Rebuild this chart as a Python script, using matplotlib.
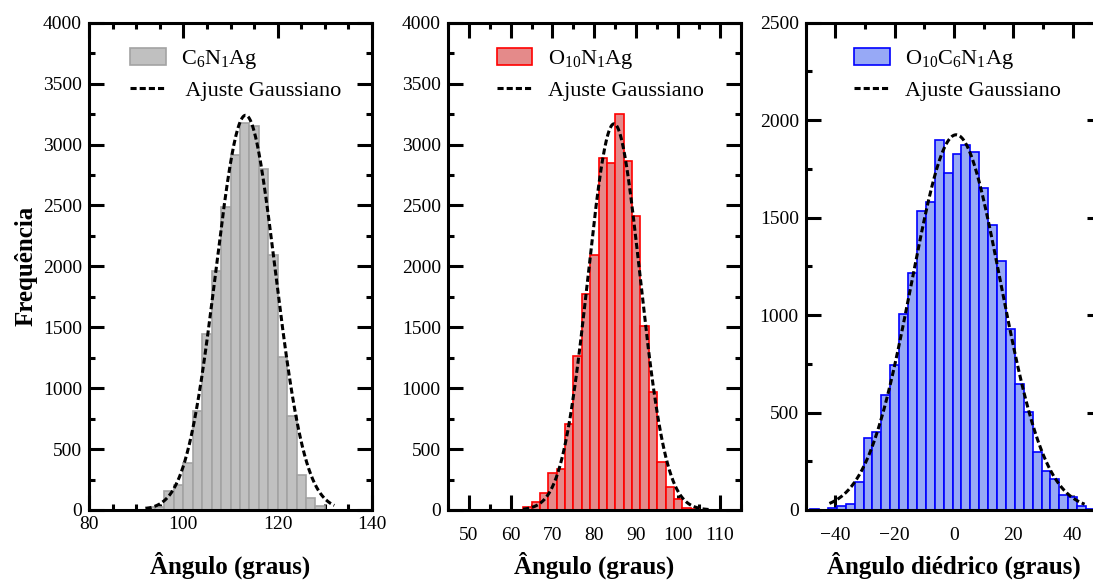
import numpy as np
import matplotlib
matplotlib.use("Agg")
import matplotlib.pyplot as plt
from matplotlib.ticker import MultipleLocator

plt.rcParams['font.family'] = ['Liberation Serif', 'DejaVu Serif']
plt.rcParams['mathtext.fontset'] = 'custom'
plt.rcParams['mathtext.rm'] = 'Liberation Serif'
plt.rcParams['mathtext.it'] = 'Liberation Serif:italic'
plt.rcParams['mathtext.bf'] = 'Liberation Serif:bold'
plt.rcParams['axes.unicode_minus'] = True

# ---- C6N1Ag angle distribution (bins of 2 degrees) ----
c6n1ag_bin_left = [92, 94, 96, 98, 100, 102, 104, 106, 108, 110,
                   112, 114, 116, 118, 120, 122, 124, 126, 128]
c6n1ag_counts = [27, 25, 159, 206, 385, 810, 1445, 1959, 2486, 2915,
                 3180, 3153, 2798, 2093, 1258, 769, 291, 99, 33]
c6n1ag_bin_width = 2
c6n1ag_fit_amp, c6n1ag_fit_center, c6n1ag_fit_sigma = 3240, 113.2, 6.3
c6n1ag_fit_span = (92, 132)

# ---- O10N1Ag angle distribution (bins of 2 degrees) ----
o10n1ag_bin_left = [63, 65, 67, 69, 71, 73, 75, 77, 79, 81,
                    83, 85, 87, 89, 91, 93, 95, 97, 99, 101, 103]
o10n1ag_counts = [27, 68, 140, 304, 337, 703, 1262, 1771, 2093, 2893,
                  2852, 3251, 2861, 2410, 1508, 966, 391, 186, 90, 14, 6]
o10n1ag_bin_width = 2
o10n1ag_fit_amp, o10n1ag_fit_center, o10n1ag_fit_sigma = 3170, 84.7, 6.2
o10n1ag_fit_span = (63, 108)

# ---- O10C6N1Ag dihedral distribution (bins of 3 degrees) ----
o10c6n1ag_bin_left = [-48.5, -45.5, -42.5, -39.5, -36.5, -33.5, -30.5, -27.5,
                      -24.5, -21.5, -18.5, -15.5, -12.5, -9.5, -6.5, -3.5,
                      -0.5, 2.5, 5.5, 8.5, 11.5, 14.5, 17.5, 20.5,
                      23.5, 26.5, 29.5, 32.5, 35.5, 38.5, 41.5, 44.5]
o10c6n1ag_counts = [5, 2, 10, 22, 31, 145, 371, 402,
                    590, 743, 1007, 1214, 1534, 1580, 1898, 1730,
                    1824, 1875, 1838, 1654, 1463, 1279, 929, 646,
                    505, 297, 198, 160, 78, 69, 21, 3]
o10c6n1ag_bin_width = 3
o10c6n1ag_fit_amp, o10c6n1ag_fit_center, o10c6n1ag_fit_sigma = 1925, 0.7, 15.0
o10c6n1ag_fit_span = (-42, 44)

panels = [
    dict(left=c6n1ag_bin_left, counts=c6n1ag_counts, width=c6n1ag_bin_width,
         fit=(c6n1ag_fit_amp, c6n1ag_fit_center, c6n1ag_fit_sigma), span=c6n1ag_fit_span,
         face='#c0c0c0', edge='#a3a3a3',
         label=r'$\mathregular{C_6N_1Ag}$', fit_label=' Ajuste Gaussiano',
         xlim=(80, 140), xmajor=20, xminor=5, ylim=(0, 4000),
         xlabel='Ângulo (graus)', rect=[89, 283], xpad=4, leg_x=0.145),
    dict(left=o10n1ag_bin_left, counts=o10n1ag_counts, width=o10n1ag_bin_width,
         fit=(o10n1ag_fit_amp, o10n1ag_fit_center, o10n1ag_fit_sigma), span=o10n1ag_fit_span,
         face='#e48a8a', edge='#ff0000',
         label=r'$\mathregular{O_{10}N_1Ag}$', fit_label='Ajuste Gaussiano',
         xlim=(45, 115), xmajor=10, xminor=5, ylim=(0, 4000),
         xlabel='Ângulo (graus)', rect=[447.7, 293.3], xpad=12, leg_x=0.167),
    dict(left=o10c6n1ag_bin_left, counts=o10c6n1ag_counts, width=o10c6n1ag_bin_width,
         fit=(o10c6n1ag_fit_amp, o10c6n1ag_fit_center, o10c6n1ag_fit_sigma), span=o10c6n1ag_fit_span,
         face='#97a9f6', edge='#0000ff',
         label=r'$\mathregular{O_{10}C_6N_1Ag}$', fit_label='Ajuste Gaussiano',
         xlim=(-50, 50), xmajor=20, xminor=10, ylim=(0, 2500),
         xlabel='Ângulo diédrico (graus)', rect=[805.7, 296.7], xpad=12, leg_x=0.164),
]

W, H = 1093, 581
fig = plt.figure(figsize=(W / 100, H / 100), dpi=100)
ax_bottom, ax_top = 510.0, 22.7

for i, p in enumerate(panels):
    x0, w = p['rect']
    ax = fig.add_axes([x0 / W, (H - ax_bottom) / H, w / W, (ax_bottom - ax_top) / H])

    bars = ax.bar(p['left'], p['counts'], width=p['width'], align='edge',
                  color=p['face'], edgecolor=p['edge'], linewidth=1.2, zorder=2)

    amp, mu, sig = p['fit']
    xs = np.linspace(p['span'][0], p['span'][1], 500)
    ys = amp * np.exp(-(xs - mu) ** 2 / (2 * sig ** 2))
    fit_line, = ax.plot(xs, ys, color='black', lw=2.2, linestyle=(0, (2.0, 1.0)),
                        zorder=3)

    ax.set_xlim(*p['xlim'])
    ax.set_ylim(*p['ylim'])
    ax.xaxis.set_major_locator(MultipleLocator(p['xmajor']))
    ax.xaxis.set_minor_locator(MultipleLocator(p['xminor']))
    ax.yaxis.set_major_locator(MultipleLocator(500))
    ax.yaxis.set_minor_locator(MultipleLocator(250))

    for s in ax.spines.values():
        s.set_linewidth(2.2)
        s.set_zorder(5)
    ax.tick_params(which='both', direction='in', top=True, right=True,
                   labelsize=14, width=2.2)
    ax.tick_params(which='major', length=10.5)
    ax.tick_params(which='minor', length=4.5)
    ax.tick_params(axis='x', which='both', pad=p['xpad'])
    ax.tick_params(axis='y', which='both', pad=5)

    ax.set_xlabel(p['xlabel'], fontsize=18, fontweight='bold')
    ax.xaxis.set_label_coords(0.5, -0.085)
    if i == 0:
        ax.set_ylabel('Frequência', fontsize=18, fontweight='bold', labelpad=4)

    ax.legend([bars, fit_line], [p['label'], p['fit_label']],
              loc='upper left', bbox_to_anchor=(p['leg_x'], 0.948),
              frameon=False, fontsize=16, borderpad=0, borderaxespad=0,
              handlelength=1.6, handleheight=0.8, handletextpad=0.7,
              labelspacing=0.4)

fig.savefig('out.png', dpi=100)
